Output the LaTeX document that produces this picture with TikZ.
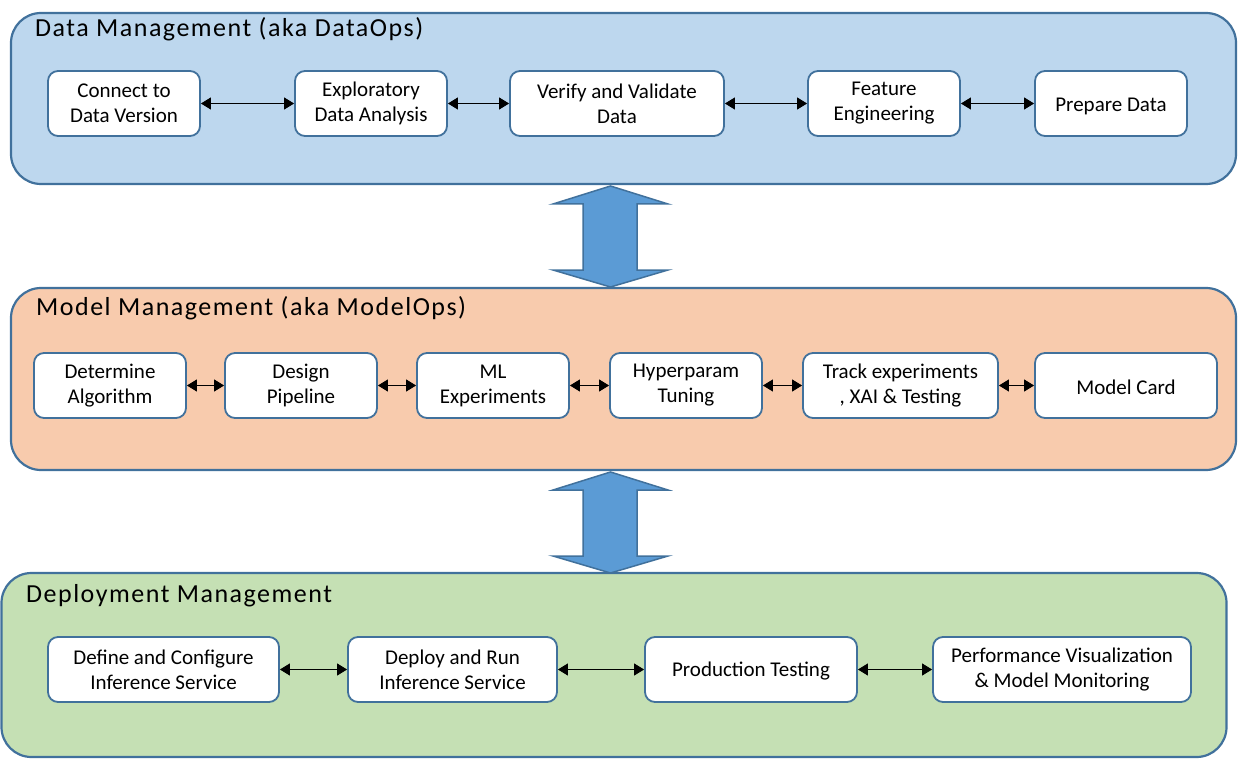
\documentclass[tikz,border=0pt]{standalone}
\usepackage{fontspec}
\setmainfont{Carlito}
\newfontfamily\titlefont[LetterSpace=5.8]{Carlito}
\usetikzlibrary{arrows.meta}
\definecolor{bordc}{HTML}{41719C}
\definecolor{datafill}{HTML}{BDD7EE}
\definecolor{modelfill}{HTML}{F8CBAD}
\definecolor{depfill}{HTML}{C5E0B4}
\definecolor{bigarrow}{HTML}{5B9BD5}
\tikzset{
  panel/.style={draw=bordc, line width=2.2pt, rounded corners=30pt, minimum height=#1, inner sep=0pt},
  stepbox/.style={draw=bordc, line width=1.8pt, fill=white, rounded corners=10pt, minimum height=65pt, minimum width=#1, inner sep=0pt, align=center, font=\fontsize{21}{25}\selectfont, execute at begin node={\rule{0pt}{18.5pt}}},
  ptitle/.style={anchor=west, inner sep=0pt, font=\titlefont\fontsize{26}{30}\selectfont},
  link/.style={line width=0.9pt, {Triangle[length=10pt,width=12pt]}-{Triangle[length=10pt,width=12pt]}},
  fatarrow/.style={fill=bigarrow, draw=bordc, line width=1.5pt, line join=miter}
}
\begin{document}
\begin{tikzpicture}[x=1pt,y=-1pt]
\useasboundingbox (0,0) rectangle (1238,759);
% panels
\node[panel=171pt, fill=datafill, minimum width=1225pt] (dm) at (623.5,98.5) {};
\node[panel=182pt, fill=modelfill, minimum width=1225pt] (mm) at (623.5,379) {};
\node[panel=184pt, fill=depfill, minimum width=1225pt] (dep) at (614,665) {};
\node[ptitle] (dmt) at (35,29.5) {Data Management (aka DataOps)};
\node[ptitle] (mmt) at (36,308.5) {Model Management (aka ModelOps)};
\node[ptitle] (dept) at (26,595.5) {Deployment Management};
% big arrows
\draw[fatarrow] (610.5,186) -- (668,204) -- (637,204) -- (637,270) -- (668,270) -- (610.5,287) -- (553,270) -- (583,270) -- (583,204) -- (553,204) -- cycle;
\draw[fatarrow] (610.5,472) -- (668,490) -- (637,490) -- (637,556) -- (668,556) -- (610.5,573) -- (553,556) -- (583,556) -- (583,490) -- (553,490) -- cycle;
% row 1
\node[stepbox=152pt] (a1) at (124,103.5) {Connect to\\Data Version};
\node[stepbox=152pt] (a2) at (371,103.5) {Exploratory\\Data Analysis};
\node[stepbox=214pt] (a3) at (617,103.5) {Verify and Validate\\Data};
\node[stepbox=152pt] (a4) at (884,103.5) {Feature\\Engineering};
\node[stepbox=152pt] (a5) at (1111,103.5) {Prepare Data};
% row 2
\node[stepbox=152pt] (b1) at (110,385.5) {Determine\\Algorithm};
\node[stepbox=152pt] (b2) at (301,385.5) {Design\\Pipeline};
\node[stepbox=152pt] (b3) at (493,385.5) {ML\\Experiments};
\node[stepbox=152pt] (b4) at (686,385.5) {Hyperparam\\Tuning};
\node[stepbox=195pt] (b5) at (900.5,385.5) {Track experiments\\, XAI \& Testing};
\node[stepbox=182pt] (b6) at (1126,385.5) {Model Card};
% row 3
\node[stepbox=231pt] (c1) at (163.5,669.5) {Define and Configure\\Inference Service};
\node[stepbox=209pt] (c2) at (452.5,669.5) {Deploy and Run\\Inference Service};
\node[stepbox=212pt] (c3) at (751,669.5) {Production Testing};
\node[stepbox=258pt] (c4) at (1062,669.5) {Performance Visualization\\\& Model Monitoring};
% links
\draw[link] (a1) -- (a2);
\draw[link] (a2) -- (a3);
\draw[link] (a3) -- (a4);
\draw[link] (a4) -- (a5);
\draw[link] (b1) -- (b2);
\draw[link] (b2) -- (b3);
\draw[link] (b3) -- (b4);
\draw[link] (b4) -- (b5);
\draw[link] (b5) -- (b6);
\draw[link] (c1) -- (c2);
\draw[link] (c2) -- (c3);
\draw[link] (c3) -- (c4);
\end{tikzpicture}
\end{document}
